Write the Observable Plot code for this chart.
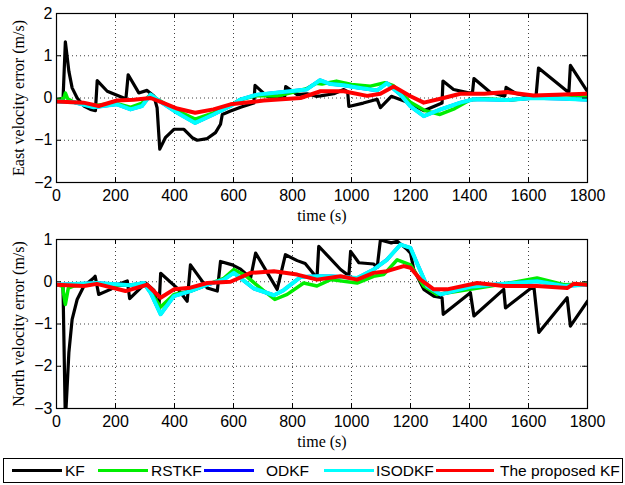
<!DOCTYPE html>
<html>
<head>
<meta charset="utf-8">
<script src="https://cdn.jsdelivr.net/npm/d3@7"></script>
<script src="https://cdn.jsdelivr.net/npm/@observablehq/plot@0.6"></script>
<style>
  html, body { margin: 0; padding: 0; background: #fff; }
  #wrap { position: relative; width: 625px; height: 485px; overflow: hidden; }
  #top, #bottom { position: absolute; left: 0; }
  #top { top: 0; }
  #bottom { top: 230px; }
  #legend { position: absolute; left: 3px; top: 458px; width: 620px; height: 25px; border: 1px solid #000; box-sizing: border-box;
            font-family: "Liberation Sans", Arial, sans-serif; font-size: 15.5px; }
  .lg-line { position: absolute; height: 3px; top: 10px; }
  .lg-text { position: absolute; top: 3px; line-height: 18px; white-space: nowrap; }
</style>
</head>
<body>
<div id="wrap">
  <div id="top"></div>
  <div id="bottom"></div>
  <div id="legend"></div>
</div>
<script>
// ---------- Data ----------
const seriesNames = ["KF", "RSTKF", "ODKF", "ISODKF", "The proposed KF"];
const seriesColors = ["#000000", "#00ee00", "#0000ff", "#00ffff", "#ff0000"];
const xTicks = [0, 200, 400, 600, 800, 1000, 1200, 1400, 1600, 1800];
const eastTicks = [-2, -1, 0, 1, 2];
const northTicks = [-3, -2, -1, 0, 1];

// East velocity error (top)
const eastKF_t = [0, 22, 30, 42, 53, 70, 93, 115, 132, 138, 172, 228, 235, 243, 279, 307, 330, 341, 350, 369, 398, 432, 460, 477, 511, 539, 556, 562, 590, 624, 669, 673, 714, 773, 777, 816, 850, 880, 895, 940, 974, 987, 991, 1040, 1087, 1098, 1135, 1190, 1245, 1307, 1310, 1346, 1397, 1410, 1415, 1471, 1516, 1520, 1524, 1560, 1625, 1634, 1731, 1737, 1742, 1800];
const eastKF_v = [-0.05, -0.05, 1.33, 0.63, 0.24, 0.0, -0.19, -0.27, -0.3, 0.41, 0.16, 0.0, -0.04, 0.55, 0.12, 0.18, 0.05, -0.23, -1.21, -0.94, -0.74, -0.74, -0.94, -1.0, -0.96, -0.82, -0.62, -0.39, -0.31, -0.22, -0.12, 0.3, 0.04, 0.0, 0.27, 0.08, 0.1, 0.04, 0.05, 0.1, 0.2, 0.15, -0.2, -0.12, -0.03, -0.23, 0.04, -0.1, -0.3, -0.12, 0.4, 0.2, 0.12, 0.12, 0.46, 0.13, 0.05, 0.05, 0.25, 0.1, 0.0, 0.71, 0.16, 0.15, 0.77, 0.15];

const eastRSTKF_t = [0, 25, 30, 38, 60, 130, 200, 250, 290, 319, 342, 409, 470, 532, 590, 622, 680, 750, 791, 847, 880, 900, 949, 1000, 1064, 1113, 1140, 1200, 1250, 1300, 1350, 1403, 1450, 1539, 1652, 1720, 1800];
const eastRSTKF_v = [-0.05, 0.0, 0.12, -0.02, -0.1, -0.18, -0.12, -0.22, -0.12, 0.08, -0.03, -0.3, -0.5, -0.35, -0.17, -0.04, 0.06, 0.05, 0.12, 0.22, 0.35, 0.33, 0.4, 0.32, 0.28, 0.36, 0.3, -0.1, -0.3, -0.39, -0.25, -0.04, -0.02, -0.05, 0.03, 0.08, 0.03];

const eastISODKF_t = [0, 60, 126, 205, 251, 290, 319, 342, 409, 470, 532, 590, 622, 680, 791, 847, 893, 929, 973, 1018, 1087, 1120, 1166, 1200, 1245, 1302, 1369, 1414, 1527, 1617, 1720, 1800];
const eastISODKF_v = [-0.08, -0.1, -0.22, -0.15, -0.27, -0.19, 0.08, -0.04, -0.35, -0.59, -0.39, -0.19, -0.04, 0.08, 0.16, 0.2, 0.42, 0.33, 0.3, 0.25, 0.18, 0.35, 0.08, -0.2, -0.43, -0.27, -0.11, -0.03, -0.05, 0.0, -0.02, -0.04];
const eastODKF_t = eastISODKF_t;
const eastODKF_v = eastISODKF_v;

const eastProp_t = [0, 91, 143, 205, 262, 319, 353, 409, 470, 532, 590, 702, 827, 895, 974, 1053, 1098, 1143, 1200, 1245, 1312, 1369, 1450, 1527, 1617, 1720, 1800];
const eastProp_v = [-0.08, -0.11, -0.19, -0.06, -0.04, 0.0, -0.09, -0.25, -0.35, -0.27, -0.15, -0.06, 0.0, 0.16, 0.16, 0.05, 0.1, 0.27, 0.04, -0.11, 0.0, 0.1, 0.1, 0.14, 0.06, 0.08, 0.1];

// North velocity error (bottom)
const northKF_t = [0, 22, 30, 36, 42, 53, 70, 93, 126, 131, 143, 183, 206, 240, 248, 302, 330, 341, 347, 353, 409, 443, 454, 511, 545, 556, 596, 624, 658, 675, 748, 776, 816, 843, 883, 889, 963, 991, 997, 1025, 1075, 1087, 1098, 1135, 1155, 1189, 1200, 1211, 1245, 1279, 1307, 1311, 1403, 1415, 1516, 1522, 1618, 1635, 1731, 1742, 1800];
const northKF_v = [-0.07, -0.1, -3.3, -2.5, -1.67, -0.89, -0.42, -0.1, 0.09, 0.13, -0.3, -0.18, -0.07, 0.02, -0.4, -0.03, -0.2, -0.5, -0.65, 0.2, -0.15, -0.46, 0.4, -0.15, -0.22, 0.48, 0.4, 0.3, 0.09, 0.68, -0.18, 0.64, 0.5, 0.43, 0.09, 0.84, 0.29, 0.14, 0.72, 0.45, 0.42, 0.34, 0.99, 0.92, 0.96, 0.76, 0.68, 0.29, -0.18, -0.34, -0.38, -0.77, -0.26, -0.81, -0.18, -0.62, -0.1, -1.2, -0.38, -1.05, -0.46];

const northRSTKF_t = [0, 20, 30, 40, 60, 137, 200, 250, 296, 319, 353, 398, 454, 511, 567, 601, 640, 700, 740, 782, 838, 883, 929, 1019, 1075, 1109, 1155, 1200, 1245, 1290, 1403, 1482, 1560, 1629, 1720, 1800];
const northRSTKF_v = [-0.07, -0.1, -0.54, -0.15, -0.1, -0.05, -0.08, -0.08, -0.03, -0.25, -0.6, -0.3, -0.22, -0.07, 0.08, 0.29, 0.15, -0.2, -0.42, -0.3, -0.03, -0.1, 0.05, -0.03, 0.13, 0.17, 0.52, 0.4, -0.1, -0.3, -0.18, -0.09, 0.0, 0.09, -0.07, -0.05];

const northISODKF_t = [0, 137, 251, 296, 319, 353, 398, 454, 511, 567, 601, 669, 737, 770, 827, 883, 929, 1019, 1075, 1120, 1166, 1200, 1222, 1256, 1302, 1403, 1516, 1629, 1720, 1800];
const northISODKF_v = [-0.07, -0.03, -0.08, -0.03, -0.26, -0.77, -0.34, -0.22, -0.07, 0.05, 0.21, -0.16, -0.32, -0.2, 0.11, 0.13, 0.13, 0.09, 0.29, 0.52, 0.88, 0.8, 0.44, -0.1, -0.3, -0.12, -0.05, 0.01, -0.1, -0.07];
const northODKF_t = northISODKF_t;
const northODKF_v = northISODKF_v;

const northProp_t = [0, 93, 137, 234, 307, 353, 398, 454, 511, 590, 658, 737, 816, 883, 963, 1019, 1075, 1120, 1177, 1200, 1234, 1279, 1324, 1426, 1516, 1629, 1731, 1753, 1800];
const northProp_v = [-0.07, -0.1, -0.05, -0.22, -0.07, -0.38, -0.18, -0.14, -0.03, 0.0, 0.21, 0.25, 0.17, 0.05, 0.13, 0.05, 0.21, 0.25, 0.37, 0.33, 0.05, -0.18, -0.18, -0.03, -0.1, -0.1, -0.15, -0.05, -0.07];

// ---------- Build ----------
const widths = [3.2, 3.5, 3.5, 4, 4];
function pts(t, v) { return t.map((d, i) => ({t: d, v: v[i]})); }

const eastSeries = [pts(eastKF_t, eastKF_v), pts(eastRSTKF_t, eastRSTKF_v), pts(eastODKF_t, eastODKF_v), pts(eastISODKF_t, eastISODKF_v), pts(eastProp_t, eastProp_v)];
const northSeries = [pts(northKF_t, northKF_v), pts(northRSTKF_t, northRSTKF_v), pts(northODKF_t, northODKF_v), pts(northISODKF_t, northISODKF_v), pts(northProp_t, northProp_v)];

const intFmt = d3.format("d");

function panel(series, yDomain, yTicks, ylabel, height, marginTop, marginBottom) {
  const ml = 56, mr = 38, width = 625;
  const ih = height - marginTop - marginBottom;
  const iw = width - ml - mr;
  const gridStyle = {stroke: "#000", strokeOpacity: 0.75, strokeDasharray: "1,3", strokeWidth: 1};
  const marks = [
    Plot.gridX({ticks: xTicks, ...gridStyle}),
    Plot.gridY({ticks: yTicks, ...gridStyle}),
    ...series.map((s, i) => Plot.line(s, {x: "t", y: "v", stroke: seriesColors[i], strokeWidth: widths[i], strokeLinejoin: "round", clip: true})),
    Plot.tickX(xTicks, {x: d => d, insetTop: ih - 5, stroke: "#000"}),
    Plot.tickX(xTicks, {x: d => d, insetBottom: ih - 5, stroke: "#000"}),
    Plot.tickY(yTicks, {y: d => d, insetLeft: iw - 5, stroke: "#000"}),
    Plot.tickY(yTicks, {y: d => d, insetRight: iw - 5, stroke: "#000"}),
    Plot.frame({stroke: "#000", strokeWidth: 1.2}),
    Plot.axisX({ticks: xTicks, tickSize: 0, tickPadding: 7, tickFormat: intFmt, label: null, fontSize: 16}),
    Plot.axisY({ticks: yTicks, tickSize: 0, tickPadding: 4, tickFormat: intFmt, label: null, fontSize: 16}),
    Plot.text(["time (s)"], {text: d => d, frameAnchor: "bottom", dy: 27, lineAnchor: "top", fontFamily: "Liberation Serif, Times New Roman, serif", fontSize: 16}),
    Plot.text([ylabel], {text: d => d, frameAnchor: "left", dx: -38, rotate: -90, textAnchor: "middle", fontFamily: "Liberation Serif, Times New Roman, serif", fontSize: 16})
  ];
  return Plot.plot({
    width, height, marginLeft: ml, marginRight: mr, marginTop, marginBottom,
    style: {fontFamily: "Liberation Sans, Arial, sans-serif", fontSize: "16px", background: "#fff", overflow: "visible"},
    x: {domain: [0, 1800]},
    y: {domain: yDomain},
    marks
  });
}

document.getElementById("top").appendChild(panel(eastSeries, [-2, 2], eastTicks, "East velocity error (m/s)", 230, 13, 48));
document.getElementById("bottom").appendChild(panel(northSeries, [-3, 1], northTicks, "North velocity error (m/s)", 225, 9, 47));

// Legend
const lgLineX = [8, 94, 200, 320, 432];
const lgTextX = [61, 147, 262, 372, 496];
const legend = document.getElementById("legend");
seriesNames.forEach((name, i) => {
  const ln = document.createElement("div");
  ln.className = "lg-line";
  ln.style.left = lgLineX[i] + "px";
  ln.style.width = (i === 4 ? 58 : 50) + "px";
  ln.style.background = seriesColors[i];
  legend.appendChild(ln);
  const tx = document.createElement("div");
  tx.className = "lg-text";
  tx.style.left = lgTextX[i] + "px";
  tx.textContent = name;
  legend.appendChild(tx);
});
</script>
</body>
</html>
